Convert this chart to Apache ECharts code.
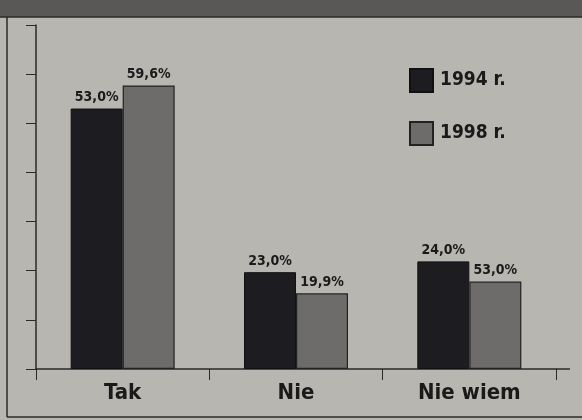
<!DOCTYPE html>
<html>
<head>
<meta charset="utf-8">
<script src="https://cdn.jsdelivr.net/npm/echarts@6/dist/echarts.min.js"></script>
<style>
  html, body { margin: 0; padding: 0; background: #b8b6b1; }
  #chartDiv { width: 582px; height: 420px; }
</style>
</head>
<body>
<div id="chartDiv"></div>
<script>
// odpowiedzi
var categories = ['Tak', 'Nie', 'Nie wiem'];
var seriesNames = ['1994 r.', '1998 r.'];
// wysokosci slupkow (w %)
var values1994 = [53.0, 19.7, 21.9];
var values1998 = [57.7, 15.4, 17.8];
// napisy nad slupkami, tak jak wydrukowane
var labels1994 = ['53,0%', '23,0%', '24,0%'];
var labels1998 = ['59,6%', '19,9%', '53,0%'];

var font = '"Liberation Sans Narrow", "DejaVu Sans Condensed", sans-serif';

var myChart = echarts.init(document.getElementById('chartDiv'));

var makeData = function(vals, labs){
    return vals.map(function(v, i){
        return { value: v, label: { formatter: labs[i] } };
    });
};

var option = {
    backgroundColor: '#b8b6b1',
    animation: false,
    legend: {
        left: 404,
        top: 63,
        orient: 'vertical',
        itemWidth: 23,
        itemHeight: 23,
        itemGap: 28,
        icon: 'rect',
        textStyle: { fontFamily: font, fontWeight: 'bold', fontSize: 19, color: '#1a1a1a', padding: [0, 0, 0, 2] },
        data: seriesNames
    },
    grid: { left: 36, right: 26, top: 25, bottom: 51 },
    xAxis: {
        type: 'category',
        data: categories,
        axisLine: { lineStyle: { color: '#2a2a2a', width: 1.5 } },
        axisTick: { show: true, inside: false, length: 11, lineStyle: { color: '#2a2a2a' } },
        axisLabel: { fontFamily: font, fontWeight: 'bold', fontSize: 22, color: '#1a1a1a', margin: 13 }
    },
    yAxis: {
        type: 'value',
        min: 0,
        max: 70,
        interval: 10,
        axisLine: { show: true, lineStyle: { color: '#2a2a2a', width: 1.5 } },
        axisTick: { show: true, length: 10, lineStyle: { color: '#2a2a2a' } },
        axisLabel: { show: false },
        splitLine: { show: false }
    },
    series: [
        {
            name: seriesNames[0],
            type: 'bar',
            barWidth: 52,
            barGap: '0%',
            data: makeData(values1994, labels1994),
            itemStyle: { color: '#1d1d21', borderColor: '#111', borderWidth: 1 },
            label: { show: true, position: 'top', distance: 4, fontFamily: font, fontWeight: 'bold', fontSize: 14, color: '#1a1a1a' }
        },
        {
            name: seriesNames[1],
            type: 'bar',
            barWidth: 52,
            data: makeData(values1998, labels1998),
            itemStyle: { color: '#6e6c6b', borderColor: '#222', borderWidth: 1.2 },
            label: { show: true, position: 'top', distance: 4, fontFamily: font, fontWeight: 'bold', fontSize: 14, color: '#1a1a1a' }
        }
    ],
    graphic: [
        { type: 'rect', shape: { x: 0, y: 0, width: 582, height: 17 }, style: { fill: '#595856' } },
        { type: 'line', shape: { x1: 0, y1: 17, x2: 582, y2: 17 }, style: { stroke: '#2a2a2a', lineWidth: 1.5 } },
        { type: 'line', shape: { x1: 7, y1: 17, x2: 7, y2: 417 }, style: { stroke: '#2a2a2a', lineWidth: 1.5 } },
        { type: 'line', shape: { x1: 7, y1: 417, x2: 582, y2: 417 }, style: { stroke: '#2a2a2a', lineWidth: 1.5 } },
        { type: 'line', shape: { x1: 556, y1: 369, x2: 570, y2: 369 }, style: { stroke: '#2a2a2a', lineWidth: 1.5 } }
    ]
};

myChart.setOption(option);
</script>
</body>
</html>
